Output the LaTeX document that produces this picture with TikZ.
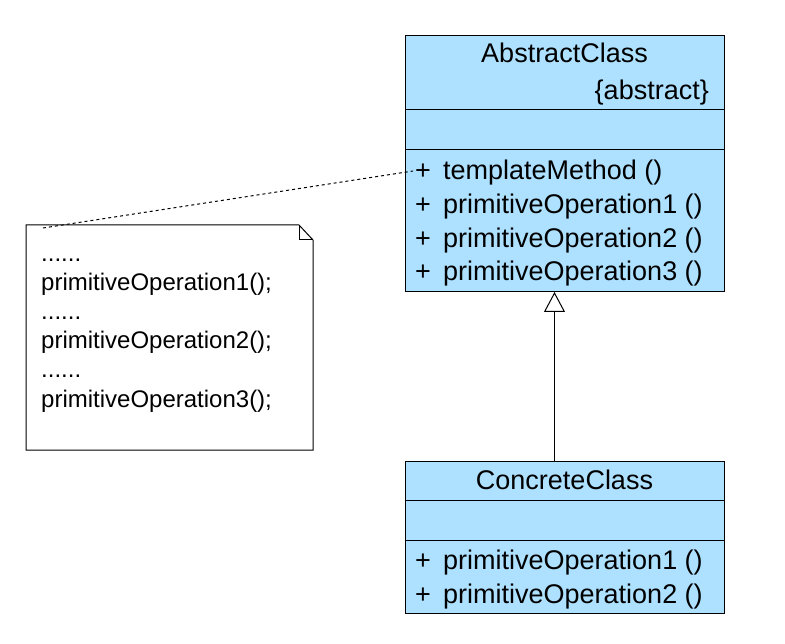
\documentclass[tikz,border=0pt]{standalone}
\usepackage{fontspec}
\setmainfont{Liberation Sans}
\usetikzlibrary{arrows.meta}
\definecolor{umlblue}{RGB}{174,225,255}
\tikzset{
  classbox/.style={draw=black, fill=umlblue, line width=1pt, rectangle, inner sep=0pt, anchor=north west},
  divider/.style={draw=black, line width=1pt},
  big/.style={font=\fontsize{27}{30}\selectfont, inner sep=0pt},
  notetext/.style={font=\fontsize{24}{28}\selectfont, inner sep=0pt, anchor=base west},
  optext/.style={big, anchor=base west},
  notebox/.style={draw=black, fill=white, line width=1pt},
  inherit/.style={draw=black, line width=1pt, -{Triangle[open, length=20pt, width=21pt, fill=white]}},
  notelink/.style={draw=black, line width=1pt, dash pattern=on 3pt off 3pt}
}
\begin{document}
\begin{tikzpicture}[x=1pt, y=-1pt]
\useasboundingbox (0,0) rectangle (785,644);
% AbstractClass
\node[classbox, minimum width=319pt, minimum height=256pt] (abs) at (405,35) {};
\draw[divider] (405,110) -- (724,110);
\draw[divider] (405,150) -- (724,150);
\node[big, anchor=base] (absname) at (564.5,63) {AbstractClass};
\node[big, anchor=base east] (absst) at (709,100) {\{abstract\}};
\node[optext] (p0) at (415,180) {+};
\node[optext] (tm) at (443,180) {templateMethod ()};
\node[optext] (p1) at (415,214) {+};
\node[optext] (a1) at (443,214) {primitiveOperation1 ()};
\node[optext] (p2) at (415,248) {+};
\node[optext] (a2) at (443,248) {primitiveOperation2 ()};
\node[optext] (p3) at (415,281) {+};
\node[optext] (a3) at (443,281) {primitiveOperation3 ()};
% ConcreteClass
\node[classbox, minimum width=319pt, minimum height=152pt] (conc) at (405,461) {};
\draw[divider] (405,500) -- (724,500);
\draw[divider] (405,540) -- (724,540);
\node[big, anchor=base] (concname) at (564.5,489) {ConcreteClass};
\node[optext] (q1) at (415,569) {+};
\node[optext] (c1) at (443,569) {primitiveOperation1 ()};
\node[optext] (q2) at (415,603) {+};
\node[optext] (c2) at (443,603) {primitiveOperation2 ()};
% inheritance
\draw[inherit] (conc.north -| 554.5,0) -- (abs.south -| 554.5,0);
% note
\draw[notebox] (26,225) -- (299,225) -- (313,240) -- (313,450) -- (26,450) -- cycle;
\draw[line width=1pt] (299,225) -- (299,240) -- (313,240);
\node[notetext] (n1) at (41,262) {......};
\node[notetext] (n2) at (41,291) {primitiveOperation1();};
\node[notetext] (n3) at (41,320) {......};
\node[notetext] (n4) at (41,349) {primitiveOperation2();};
\node[notetext] (n5) at (41,378) {......};
\node[notetext] (n6) at (41,407) {primitiveOperation3();};
\coordinate (notecorner) at (43,228);
\coordinate (tmlink) at (413,171);
\draw[notelink] (notecorner) -- (tmlink);
\end{tikzpicture}
\end{document}
